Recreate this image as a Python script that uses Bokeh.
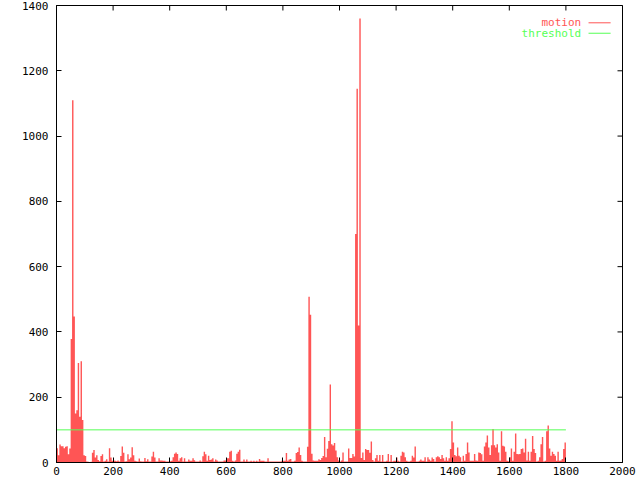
import numpy as np
from bokeh.plotting import figure
from bokeh.models import Range1d, LinearAxis, FixedTicker, Label
from bokeh.embed import file_html
from bokeh.resources import INLINE

# ---------------- data ----------------
sample_step = 5
motion_x = list(range(0, 1800, sample_step))
motion_y = [
    44, 22, 55, 50, 50, 44, 48, 50, 25, 43,
    378, 1110, 447, 150, 160, 305, 140, 310, 130, 22,
    20, 3, 2, 1, 2, 30, 38, 15, 22, 8,
    4, 20, 25, 3, 5, 10, 3, 44, 15, 5,
    6, 5, 4, 6, 3, 20, 49, 30, 3, 4,
    25, 10, 15, 47, 22, 5, 4, 3, 12, 4,
    3, 3, 14, 4, 10, 3, 3, 18, 33, 15,
    3, 3, 13, 6, 6, 5, 5, 3, 3, 3,
    4, 5, 16, 27, 31, 26, 5, 13, 16, 3,
    13, 3, 3, 9, 5, 5, 13, 7, 3, 3,
    3, 6, 3, 19, 33, 25, 5, 21, 8, 9,
    13, 3, 9, 6, 3, 3, 3, 3, 6, 6,
    13, 13, 33, 36, 5, 3, 6, 27, 33, 39,
    3, 3, 9, 3, 9, 3, 3, 5, 3, 5,
    3, 5, 3, 11, 5, 5, 5, 3, 3, 13,
    3, 3, 3, 3, 3, 3, 3, 3, 3, 5,
    5, 5, 29, 5, 9, 11, 3, 3, 5, 29,
    32, 46, 23, 5, 3, 3, 3, 48, 508, 453,
    27, 6, 5, 5, 5, 10, 8, 14, 20, 78,
    16, 42, 66, 239, 56, 52, 60, 37, 16, 6,
    3, 6, 31, 3, 3, 3, 43, 14, 14, 26,
    18, 700, 1145, 420, 1360, 14, 31, 8, 41, 38,
    38, 30, 64, 8, 3, 13, 23, 5, 23, 3,
    23, 3, 3, 5, 26, 3, 23, 3, 5, 5,
    15, 5, 3, 21, 33, 31, 16, 5, 3, 3,
    5, 21, 15, 49, 3, 3, 5, 9, 5, 5,
    16, 3, 16, 9, 5, 15, 11, 3, 16, 19,
    16, 11, 23, 13, 5, 16, 5, 13, 41, 126,
    61, 23, 19, 46, 21, 16, 3, 21, 5, 26,
    61, 31, 5, 5, 5, 26, 6, 5, 31, 29,
    25, 5, 49, 61, 83, 46, 23, 53, 103, 53,
    46, 56, 31, 5, 96, 51, 49, 33, 5, 4,
    16, 43, 5, 33, 89, 26, 25, 26, 41, 43,
    31, 73, 6, 33, 5, 33, 81, 41, 29, 3,
    5, 16, 56, 78, 3, 5, 96, 113, 43, 21,
    33, 26, 21, 5, 33, 5, 6, 11, 41, 61,
]
threshold_level = 100
x_ticks = [0, 200, 400, 600, 800, 1000, 1200, 1400, 1600, 1800, 2000]
y_ticks = [0, 200, 400, 600, 800, 1000, 1200, 1400]
series_labels = ["motion", "threshold"]

# ---------------- style ----------------
RED = "#ff5555"
GREEN = "#55ff55"
FONT = "DejaVu Sans Mono"
FSIZE = "11px"
X_MIN, X_MAX = 0, 2000
Y_MIN, Y_MAX = 0, 1400

p = figure(width=640, height=480, output_backend="svg", toolbar_location=None,
           x_range=Range1d(X_MIN, X_MAX), y_range=Range1d(Y_MIN, Y_MAX),
           x_axis_location=None, y_axis_location=None,
           min_border_left=56, min_border_right=18,
           min_border_top=5, min_border_bottom=18)
p.background_fill_color = "white"
p.border_fill_color = "white"
p.outline_line_color = "black"
p.outline_line_width = 1
for g in p.grid:
    g.visible = False

# motion as a filled step area
xs = motion_x + [motion_x[-1] + sample_step]
ys = motion_y + [motion_y[-1]]
p.varea_step(x=xs, y1=0, y2=ys, step_mode="after", fill_color=RED, fill_alpha=1.0)

# threshold line
p.line(x=[motion_x[0], motion_x[-1] + sample_step], y=[threshold_level, threshold_level],
       line_color=GREEN, line_width=1)


def make_axis(ticks, standoff):
    ax = LinearAxis(ticker=FixedTicker(ticks=ticks))
    ax.major_tick_in = 5
    ax.major_tick_out = 0
    ax.minor_tick_line_color = None
    ax.axis_line_color = "black"
    ax.major_tick_line_color = "black"
    ax.major_label_text_font = FONT
    ax.major_label_text_color = "black"
    ax.major_label_text_font_size = FSIZE
    ax.major_label_standoff = standoff
    return ax


p.add_layout(make_axis(x_ticks, 4), "below")
p.add_layout(make_axis(y_ticks, 8), "left")

# mirrored inward ticks on top and right border (gnuplot style); the frame clips
# the outer half of each dash marker
p.scatter(x=x_ticks, y=[Y_MAX] * len(x_ticks), marker="dash", size=10,
          angle=np.pi / 2, line_color="black", line_width=1)
p.scatter(x=[X_MAX] * len(y_ticks), y=y_ticks, marker="dash", size=10,
          angle=0, line_color="black", line_width=1)

# legend (gnuplot style: text right-aligned, key sample on the right)
legend_text_x = 1854
legend_key_x0 = 1880
legend_key_x1 = 1958
legend_rows_y = [1347, 1315]
legend_colors = [RED, GREEN]
for lab, yy, col in zip(series_labels, legend_rows_y, legend_colors):
    p.add_layout(Label(x=legend_text_x, y=yy, text=lab, text_align="right",
                       text_baseline="middle", text_color=col,
                       text_font=FONT, text_font_size=FSIZE))
    p.line(x=[legend_key_x0, legend_key_x1], y=[yy, yy], line_color=col, line_width=1)

open("out.html", "w").write(file_html(p, INLINE))
